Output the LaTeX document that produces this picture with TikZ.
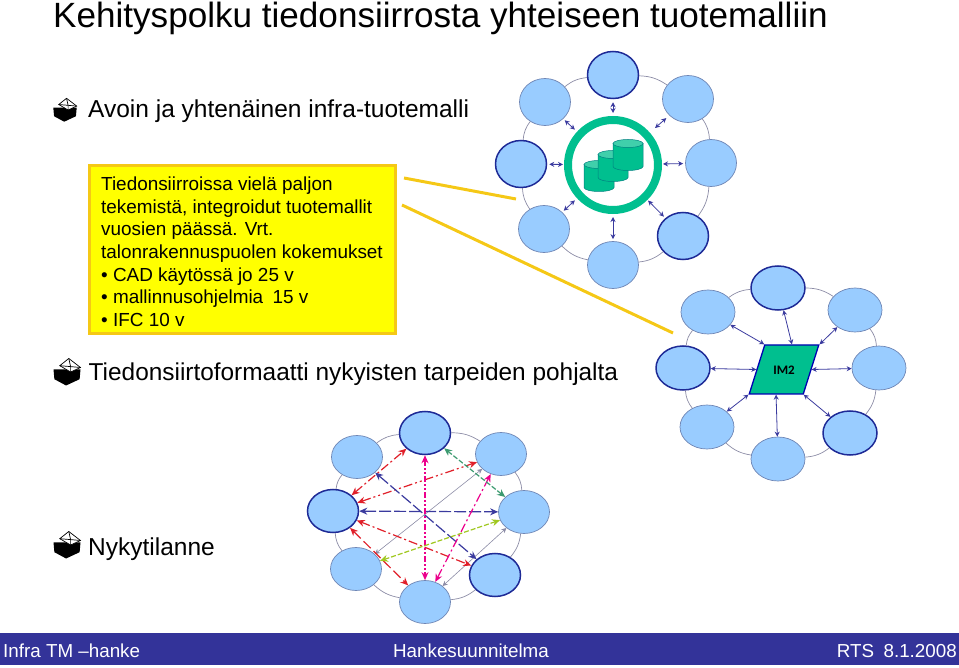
\documentclass[tikz,border=0pt]{standalone}
\usepackage{fontspec}
\setmainfont{Liberation Sans}
\newfontfamily\imfont{Carlito}
\usetikzlibrary{shapes.geometric,arrows.meta}
\definecolor{nodeblue}{HTML}{99CCFF}
\definecolor{edgeblue}{HTML}{6F86B5}
\definecolor{darkblue}{HTML}{1E2A96}
\definecolor{arrowblue}{HTML}{3A3A9E}
\definecolor{modelgreen}{HTML}{00BF8F}
\definecolor{ringgray}{HTML}{8C8CA6}
\definecolor{linkyellow}{HTML}{F5C816}
\definecolor{noteyellow}{RGB}{255,255,0}
\definecolor{barblue}{HTML}{333399}
\definecolor{meshred}{HTML}{E0202A}
\definecolor{meshgreen}{HTML}{3C9A70}
\definecolor{meshlime}{HTML}{A0C820}
\tikzset{
    member/.style={ellipse, draw=edgeblue, fill=nodeblue, line width=0.7pt, minimum width=51pt, minimum height=47pt, inner sep=0pt},
    member_strong/.style={member, draw=darkblue, line width=1.5pt},
    member_wide/.style={member, minimum width=54pt, minimum height=44pt},
    strong_wide/.style={member_strong, minimum width=54pt, minimum height=44pt},
    ring_line/.style={draw=ringgray, line width=0.7pt, bend left=16},
    link/.style={<->, >={Stealth[length=5pt,width=5pt]}, draw=arrowblue, line width=0.8pt},
    mesh/.style={<->, >={Stealth[length=8pt,width=7pt]}, line width=1.2pt},
    caption_text/.style={inner sep=0pt, anchor=base west, font=\fontsize{24.5}{24.5}\selectfont},
    bar_text/.style={inner sep=0pt, anchor=base, text=white, font=\fontsize{18.8}{18.8}\selectfont},
    tip_icon/.pic={
        \fill[black] (-15,-3) -- (15,-3) -- (14,8) -- (-1,15) -- (-14,8) -- cycle;
        \draw[black, line width=0.7pt, fill=white] (2,-15) -- (15,-5) -- (4,0) -- (-8,-7) -- cycle;
        \draw[black, line width=0.7pt] (-8,-7) -- (4,-6) -- (15,-5) (2,-15) -- (4,-6) -- (4,0);
    },
    drum/.pic={
        \draw[teal, line width=0.5pt, fill=modelgreen] (-15,-11.5) -- (-15,11.5) arc[start angle=180, end angle=360, x radius=15pt, y radius=4pt] -- (15,-11.5) -- cycle;
        \draw[teal, line width=0.5pt, fill=modelgreen!75!white] (0,-11.5) ellipse[x radius=15pt, y radius=4pt];
    }
}
\begin{document}
\begin{tikzpicture}[x=1pt, y=-1pt]
\useasboundingbox (0,0) rectangle (959,668);

\node[inner sep=0pt, anchor=base west, font=\fontsize{35.1}{35.1}\selectfont] (title) at (53,28) {Kehityspolku tiedonsiirrosta yhteiseen tuotemalliin};

\pic[scale=0.78] at (65,110) {tip_icon};
\pic[scale=0.9] at (67,372) {tip_icon};
\pic[scale=0.9] at (67,545) {tip_icon};
\node[caption_text] (avoin) at (88,118) {Avoin ja yhtenäinen infra-tuotemalli};
\node[caption_text, font=\fontsize{24.4}{24.4}\selectfont] (format) at (88.5,381) {Tiedonsiirtoformaatti nykyisten tarpeiden pohjalta};
\node[caption_text] (nyky) at (88,555) {Nykytilanne};

% yellow note
\node[draw=linkyellow, fill=noteyellow, line width=3pt, minimum width=306pt, minimum height=168pt, inner sep=0pt] (note) at (242.5,249.5) {};
\node[inner sep=0pt, anchor=north west, align=left, font=\fontsize{18.9}{22.7}\selectfont] (notetext) at (101,176.5) {Tiedonsiirroissa vielä paljon\\tekemistä, integroidut tuotemallit\\vuosien päässä. Vrt.\\talonrakennuspuolen kokemukset\\• CAD käytössä jo 25 v\\• mallinnusohjelmia\enspace 15 v\\• IFC 10 v};

\coordinate (y1a) at (404,178);
\coordinate (y1b) at (516,199);
\coordinate (y2a) at (402,205);
\coordinate (y2b) at (673,333);
\draw[linkyellow, line width=3pt] (y1a) -- (y1b);
\draw[linkyellow, line width=3pt] (y2a) -- (y2b);

% first ring
\node[member_strong] (a1) at (613,75) {};
\node[member] (a2) at (688,99) {};
\node[member] (a3) at (711,163) {};
\node[member_strong] (a4) at (683,236) {};
\node[member] (a5) at (613,265) {};
\node[member] (a6) at (544,229) {};
\node[member_strong] (a7) at (521,164) {};
\node[member] (a8) at (545,102) {};
\draw[ring_line] (a1) to (a2);
\draw[ring_line] (a2) to (a3);
\draw[ring_line] (a3) to (a4);
\draw[ring_line] (a4) to (a5);
\draw[ring_line] (a5) to (a6);
\draw[ring_line] (a6) to (a7);
\draw[ring_line] (a7) to (a8);
\draw[ring_line] (a8) to (a1);

\node[circle, draw=modelgreen, line width=8pt, fill=white, minimum size=90pt, inner sep=0pt] (hub) at (613,165) {};
\pic at (599,176) {drum};
\pic at (613,166) {drum};
\pic at (628,155) {drum};

\draw[link, shorten <=3pt, shorten >=3pt] (a1) -- (hub);
\draw[link, shorten <=4pt, shorten >=7pt] (a2) -- (hub);
\draw[link, shorten <=2pt, shorten >=1pt] (a3) -- (hub);
\draw[link, shorten <=2pt, shorten >=1pt] (a4) -- (hub);
\draw[link, shorten <=2pt, shorten >=3pt] (a5) -- (hub);
\draw[link, shorten <=2pt, shorten >=3pt] (a6) -- (hub);
\draw[link, shorten <=2pt, shorten >=1pt] (a7) -- (hub);
\draw[link, shorten <=2pt, shorten >=3pt] (a8) -- (hub);

% second ring
\node[strong_wide] (b1) at (778,288) {};
\node[member_wide] (b2) at (855,310) {};
\node[member_wide] (b3) at (879,368) {};
\node[strong_wide] (b4) at (850,433) {};
\node[member_wide] (b5) at (778,459) {};
\node[member_wide] (b6) at (707,427) {};
\node[strong_wide] (b7) at (683,368) {};
\node[member_wide] (b8) at (708,312) {};
\draw[ring_line] (b1) to (b2);
\draw[ring_line] (b2) to (b3);
\draw[ring_line] (b3) to (b4);
\draw[ring_line] (b4) to (b5);
\draw[ring_line] (b5) to (b6);
\draw[ring_line] (b6) to (b7);
\draw[ring_line] (b7) to (b8);
\draw[ring_line] (b8) to (b1);

\node[draw=blue!70!black, fill=modelgreen, line width=1.3pt, xslant=0.316, transform shape, minimum width=54pt, minimum height=49pt, inner sep=0pt] (im) at (784,369.5) {};
\node[inner sep=0pt, font=\imfont\bfseries\fontsize{13}{13}\selectfont] (imlabel) at (784,370) {IM2};

\draw[link] (b1) -- (im.north);
\draw[link] (b2) -- (im.north east);
\draw[link] (b3) -- (im.east);
\draw[link] (b4) -- (im.south east);
\draw[link] (b5) -- (im.south);
\draw[link] (b6) -- (im.south west);
\draw[link] (b7) -- (im.west);
\draw[link] (b8) -- (im.north west);

% third ring
\node[member_strong, minimum height=43pt] (c1) at (425,433) {};
\node[member, minimum height=43pt] (c2) at (501,454) {};
\node[member, minimum height=43pt] (c3) at (524,512) {};
\node[member_strong, minimum height=43pt] (c4) at (495,575) {};
\node[member, minimum height=43pt] (c5) at (425,602) {};
\node[member, minimum height=43pt] (c6) at (356,569) {};
\node[member_strong, minimum height=43pt] (c7) at (333,511) {};
\node[member, minimum height=43pt] (c8) at (357,457) {};
\draw[ring_line] (c1) to (c2);
\draw[ring_line] (c2) to (c3);
\draw[ring_line] (c3) to (c4);
\draw[ring_line] (c4) to (c5);
\draw[ring_line] (c5) to (c6);
\draw[ring_line] (c6) to (c7);
\draw[ring_line] (c7) to (c8);
\draw[ring_line] (c8) to (c1);

\draw[link, line width=0.6pt, draw=ringgray] (c2) -- (c6);
\draw[link, line width=0.6pt, draw=ringgray] (c3) -- (c5);
\draw[mesh, meshred, dash pattern=on 9pt off 3pt on 2pt off 3pt] (c7) -- (c1);
\draw[mesh, meshred, dash pattern=on 9pt off 3pt on 2pt off 3pt on 2pt off 3pt] (c7) -- (c2);
\draw[mesh, meshred, dash pattern=on 9pt off 3pt on 2pt off 3pt] (c7) -- (c4);
\draw[mesh, meshred, dash pattern=on 10pt off 4pt] (c7) -- (c5);
\draw[mesh, arrowblue, dash pattern=on 12pt off 3pt] (c7) -- (c3);
\draw[mesh, arrowblue, dash pattern=on 12pt off 3pt] (c8) -- (c4);
\draw[mesh, magenta, dash pattern=on 6pt off 2pt on 2pt off 2pt on 2pt off 2pt] (c1) -- (c5);
\draw[mesh, magenta, dash pattern=on 9pt off 3pt on 2pt off 3pt] (c2) -- (c5);
\draw[mesh, meshgreen, dash pattern=on 5pt off 2pt] (c1) -- (c3);
\draw[mesh, meshlime, dash pattern=on 5pt off 2pt] (c3) -- (c6);

% footer
\fill[barblue] (0,633) rectangle (959,665);
\node[bar_text, anchor=base west] (infra) at (3,657) {Infra TM –hanke};
\node[bar_text] (plan) at (471,657) {Hankesuunnitelma};
\node[bar_text, anchor=base east] (date) at (957,657) {RTS\enspace 8.1.2008};
\end{tikzpicture}
\end{document}
